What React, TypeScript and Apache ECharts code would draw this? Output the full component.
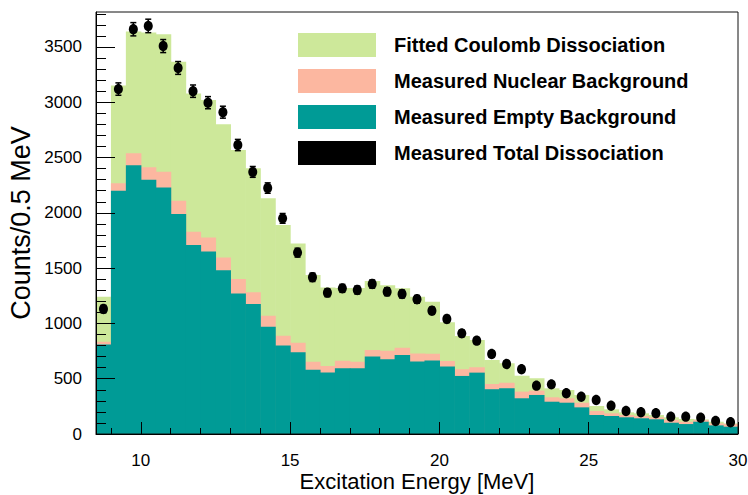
import React, { useEffect, useRef } from "react";
import * as echarts from "echarts";

// Bin centres (MeV), 0.5 MeV wide bins
const binCenters = [
  8.75, 9.25, 9.75, 10.25, 10.75, 11.25, 11.75, 12.25, 12.75, 13.25, 13.75,
  14.25, 14.75, 15.25, 15.75, 16.25, 16.75, 17.25, 17.75, 18.25, 18.75, 19.25,
  19.75, 20.25, 20.75, 21.25, 21.75, 22.25, 22.75, 23.25, 23.75, 24.25, 24.75,
  25.25, 25.75, 26.25, 26.75, 27.25, 27.75, 28.25, 28.75, 29.25, 29.75,
];
const binWidth = 0.5;

// Stacked components (counts per bin)
const emptyBackground = [
  810, 2200, 2430, 2300, 2230, 1990, 1710, 1650, 1480, 1270, 1175, 970, 800,
  740, 580, 555, 595, 595, 700, 675, 715, 655, 665, 610, 525, 555, 405, 413,
  323, 353, 292, 283, 241, 172, 163, 151, 142, 133, 102, 90, 111, 78, 66,
];
const nuclearBackground = [
  25, 67, 108, 111, 142, 120, 119, 128, 117, 131, 106, 100, 89, 86, 74, 60, 68,
  59, 59, 78, 65, 74, 61, 50, 60, 48, 47, 51, 60, 39, 40, 40, 42, 36, 24, 21,
  21, 18, 25, 21, 16, 18, 24,
];
const coulombFit = [
  405, 885, 1102, 1219, 1243, 1256, 1251, 1242, 1203, 1167, 1121, 1061, 1001,
  897, 784, 709, 657, 666, 624, 592, 537, 513, 471, 350, 301, 247, 217, 175,
  144, 111, 81, 75, 70, 45, 36, 24, 24, 21, 24, 25, 5, 15, 6,
];

// Measured total dissociation (points) and their errors
const measuredTotal = [
  1130, 3119, 3660, 3690, 3508, 3310, 3100, 2996, 2910, 2613, 2370, 2224, 1950,
  1640, 1417, 1278, 1317, 1302, 1356, 1287, 1266, 1218, 1115, 1040, 910, 844,
  723, 633, 585, 437, 449, 368, 337, 307, 256, 208, 196, 187, 157, 157, 147,
  118, 106,
];
const measuredErr = [
  34, 56, 60, 61, 59, 58, 56, 55, 54, 51, 49, 47, 44, 40, 38, 36, 36, 36, 37,
  36, 36, 35, 33, 32, 30, 29, 27, 25, 24, 21, 21, 19, 18, 18, 16, 14, 14, 14,
  13, 13, 12, 11, 10,
];

const xMajorTicks = [10, 15, 20, 25, 30];
const xMinorTicks = [9, 11, 12, 13, 14, 16, 17, 18, 19, 21, 22, 23, 24, 26, 27, 28, 29];
const yMajorTicks = [0, 500, 1000, 1500, 2000, 2500, 3000, 3500];
const yMinorTicks = [
  100, 200, 300, 400, 600, 700, 800, 900, 1100, 1200, 1300, 1400, 1600, 1700,
  1800, 1900, 2100, 2200, 2300, 2400, 2600, 2700, 2800, 2900, 3100, 3200, 3300,
  3400, 3600, 3700, 3800,
];

const NAME_COULOMB = "Fitted Coulomb Dissociation";
const NAME_NUCLEAR = "Measured Nuclear Background";
const NAME_EMPTY = "Measured Empty Background";
const NAME_TOTAL = "Measured Total Dissociation";

const C_GREEN = "#CDE89A";
const C_PINK = "#FCB7A0";
const C_TEAL = "#009B96";

const FONT = "'Liberation Sans', Arial, Helvetica, sans-serif";

function histRender(color: string) {
  return (params: any, api: any) => {
    const p0 = api.coord([api.value(0), api.value(3)]);
    const p1 = api.coord([api.value(1), api.value(2)]);
    return {
      type: "rect",
      shape: { x: p0[0], y: p0[1], width: p1[0] - p0[0] + 0.6, height: p1[1] - p0[1] },
      style: { fill: color },
    };
  };
}

export default function App() {
  const ref = useRef<HTMLDivElement>(null);
  useEffect(() => {
    if (!ref.current) return;
    const chart = echarts.init(ref.current, null, { renderer: "svg" });

    const layerEmpty = binCenters.map((c, i) => [c - binWidth / 2, c + binWidth / 2, 0, emptyBackground[i]]);
    const layerNuclear = binCenters.map((c, i) => [
      c - binWidth / 2, c + binWidth / 2, 0, emptyBackground[i] + nuclearBackground[i],
    ]);
    const layerCoulomb = binCenters.map((c, i) => [
      c - binWidth / 2, c + binWidth / 2, 0, emptyBackground[i] + nuclearBackground[i] + coulombFit[i],
    ]);
    const points = binCenters.map((c, i) => [c, measuredTotal[i], measuredErr[i]]);

    const option: any = {
      animation: false,
      backgroundColor: "#fff",
      textStyle: { fontFamily: FONT },
      grid: {
        left: 96, right: 10, top: 12, bottom: 61,
        outerBoundsMode: "none",
        containLabel: false,
        show: true, borderColor: "#111", borderWidth: 1, backgroundColor: "transparent",
        z: 20,
      },
      legend: {
        orient: "vertical",
        left: 298,
        top: 33,
        itemWidth: 78,
        itemHeight: 24,
        itemGap: 12,
        padding: 0,
        selectedMode: false,
        textStyle: { fontSize: 20, fontWeight: "bold", color: "#000", fontFamily: FONT, padding: [0, 0, 0, 13] },
        data: [
          { name: NAME_COULOMB, icon: "rect", itemStyle: { color: C_GREEN } },
          { name: NAME_NUCLEAR, icon: "rect", itemStyle: { color: C_PINK } },
          { name: NAME_EMPTY, icon: "rect", itemStyle: { color: C_TEAL } },
          { name: NAME_TOTAL, icon: "rect", itemStyle: { color: "#000" } },
        ],
      },
      xAxis: [
        {
          type: "value",
          min: 8.5,
          max: 30,
          position: "bottom",
          z: 20,
          name: "Excitation Energy [MeV]",
          nameLocation: "middle",
          nameGap: 36,
          nameMoveOverlap: false,
          nameTextStyle: { fontSize: 22, color: "#000", fontFamily: FONT },
          axisLine: { show: true, onZero: false, lineStyle: { color: "#000", width: 1 } },
          axisTick: { show: true, inside: true, length: 12, customValues: xMajorTicks, lineStyle: { color: "#000", width: 1 } },
          axisLabel: {
            show: true, customValues: xMajorTicks, fontSize: 17, color: "#000", margin: 18, fontFamily: FONT,
            formatter: (v: number) => String(v),
          },
          splitLine: { show: false },
        },
        {
          type: "value",
          min: 8.5,
          max: 30,
          position: "bottom",
          z: 20,
          axisLine: { show: false },
          axisTick: { show: true, inside: true, length: 6, customValues: xMinorTicks, lineStyle: { color: "#000", width: 1 } },
          axisLabel: { show: false },
          splitLine: { show: false },
        },
      ],
      yAxis: [
        {
          type: "value",
          min: 0,
          max: 3816,
          position: "left",
          z: 20,
          name: "Counts/0.5 MeV",
          nameLocation: "middle",
          nameGap: 62,
          nameMoveOverlap: false,
          nameTextStyle: { fontSize: 27, color: "#000", fontFamily: FONT },
          axisLine: { show: true, onZero: false, lineStyle: { color: "#000", width: 1 } },
          axisTick: { show: true, inside: true, length: 19, customValues: yMajorTicks, lineStyle: { color: "#000", width: 1 } },
          axisLabel: {
            show: true, customValues: yMajorTicks, fontSize: 17, color: "#000", margin: 14, fontFamily: FONT,
            formatter: (v: number) => String(v),
          },
          splitLine: { show: false },
        },
        {
          type: "value",
          min: 0,
          max: 3816,
          position: "left",
          z: 20,
          axisLine: { show: false },
          axisTick: { show: true, inside: true, length: 10, customValues: yMinorTicks, lineStyle: { color: "#000", width: 1 } },
          axisLabel: { show: false },
          splitLine: { show: false },
        },
      ],
      series: [
        {
          name: NAME_COULOMB,
          type: "custom",
          color: C_GREEN,
          itemStyle: { color: C_GREEN },
          renderItem: histRender(C_GREEN),
          encode: { x: [0, 1], y: [2, 3] },
          data: layerCoulomb,
          z: 1,
        },
        {
          name: NAME_NUCLEAR,
          type: "custom",
          color: C_PINK,
          itemStyle: { color: C_PINK },
          renderItem: histRender(C_PINK),
          encode: { x: [0, 1], y: [2, 3] },
          data: layerNuclear,
          z: 2,
        },
        {
          name: NAME_EMPTY,
          type: "custom",
          color: C_TEAL,
          itemStyle: { color: C_TEAL },
          renderItem: histRender(C_TEAL),
          encode: { x: [0, 1], y: [2, 3] },
          data: layerEmpty,
          z: 3,
        },
        {
          name: NAME_TOTAL,
          type: "custom",
          color: "#000",
          itemStyle: { color: "#000" },
          encode: { x: 0, y: 1 },
          data: points,
          z: 5,
          renderItem: (params: any, api: any) => {
            const x = api.value(0);
            const y = api.value(1);
            const e = api.value(2);
            const p = api.coord([x, y]);
            const top = api.coord([x, y + e])[1];
            const bot = api.coord([x, y - e])[1];
            const st = { stroke: "#000", lineWidth: 1.5 };
            return {
              type: "group",
              children: [
                { type: "line", shape: { x1: p[0], y1: top, x2: p[0], y2: bot }, style: st },
                { type: "line", shape: { x1: p[0] - 3, y1: top, x2: p[0] + 3, y2: top }, style: st },
                { type: "line", shape: { x1: p[0] - 3, y1: bot, x2: p[0] + 3, y2: bot }, style: st },
                { type: "ellipse", shape: { cx: p[0], cy: p[1], rx: 4.5, ry: 5.2 }, style: { fill: "#000" } },
              ],
            };
          },
        },
      ],
    };
    chart.setOption(option);
    return () => chart.dispose();
  }, []);
  return <div ref={ref} style={{ width: 748, height: 495, position: "absolute", left: 0, top: 0 }} />;
}
